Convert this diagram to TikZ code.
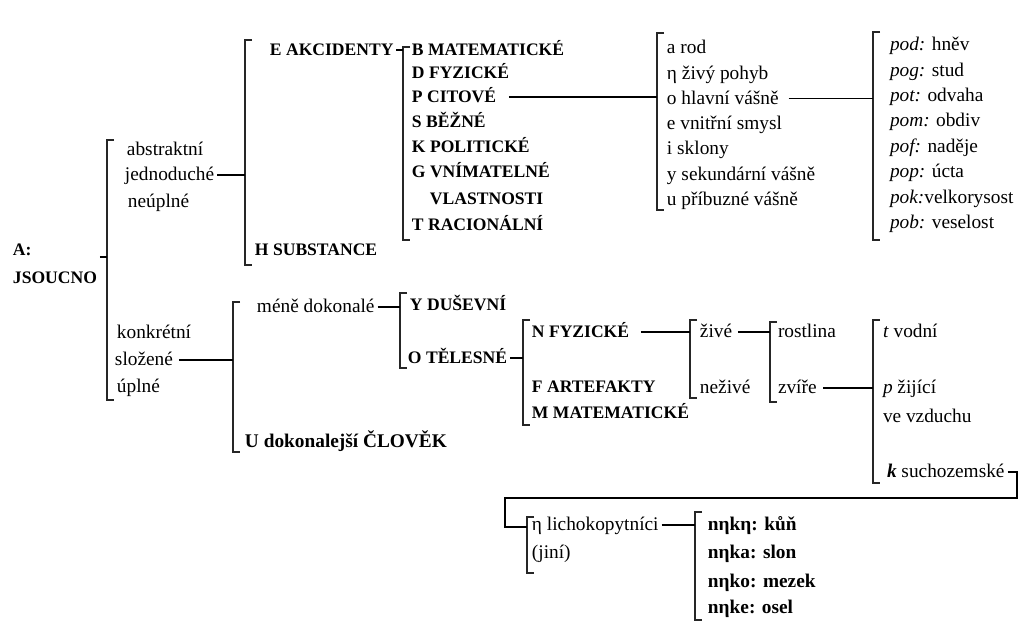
\documentclass[tikz,border=0pt]{standalone}
\usepackage{fontspec}
\setmainfont{Liberation Serif}

\begin{document}
\begin{tikzpicture}[
    x=0.02cm, y=-0.02cm,
    entry/.style={anchor=west, inner xsep=1.5pt, inner ysep=0pt,
                  text height=6.5pt, text depth=0pt,
                  font=\fontsize{11}{13}\selectfont},
    capentry/.style={entry, font=\fontsize{10}{12}\selectfont\bfseries},
    boldentry/.style={entry, font=\fontsize{11}{13}\selectfont\bfseries},
    brk/.style={draw=black!85, line width=0.8pt},
    link/.style={draw=black, line width=0.8pt}
]
\useasboundingbox (0,0) rectangle (1020,632);

% brackets: x / top / bottom
\foreach \bx/\bt/\bb in {107/140/400, 245/40/265, 403/47/240, 657/33/210,
    873/32/240, 233/302/452, 400/293/368, 523/320/425, 690/320/398,
    770/322/402, 873/320/483, 527/517/573, 695/512/620}
  \draw[brk] (\bx+7,\bt) -| (\bx,\bb) -- ++(7,0);

% bracket junctions
\coordinate (j1) at (107,257);
\coordinate (j2) at (245,175);
\coordinate (j3) at (403,50);
\coordinate (j4) at (657,97);
\coordinate (j5) at (873,97);
\coordinate (j6) at (233,360);
\coordinate (j7) at (400,308);
\coordinate (j8) at (523,358);
\coordinate (j9) at (690,332);
\coordinate (j10) at (770,332);
\coordinate (j11) at (873,388);
\coordinate (j12) at (527,527);
\coordinate (j13) at (695,525);
\coordinate (turnR) at (1017,498);
\coordinate (turnL) at (505,527);

% root
\node[capentry] (rootA) at (10,250) {A:};
\node[capentry] (rootJ) at (10,278) {JSOUCNO};

% upper branch
\node[entry] (abs1) at (124,150) {abstraktní};
\node[entry] (abs2) at (122,175) {jednoduché};
\node[entry] (abs3) at (125,202) {neúplné};

\node[capentry] (akc) at (267,50) {E AKCIDENTY};
\node[capentry] (subst) at (252,250) {H SUBSTANCE};

\node[capentry] (acc1) at (409,50) {B MATEMATICKÉ};
\node[capentry] (acc2) at (409,73) {D FYZICKÉ};
\node[capentry] (acc3) at (409,97) {P CITOVÉ};
\node[capentry] (acc4) at (409,122) {S BĚŽNÉ};
\node[capentry] (acc5) at (409,147) {K POLITICKÉ};
\node[capentry] (acc6) at (409,172) {G VNÍMATELNÉ};
\node[capentry] (acc7) at (427,199) {VLASTNOSTI};
\node[capentry] (acc8) at (409,225) {T RACIONÁLNÍ};

\foreach \t [count=\i] in {a rod, η živý pohyb, o hlavní vášně, e vnitřní smysl,
    i sklony, y sekundární vášně, u příbuzné vášně}
  \node[entry] (emo\i) at (664,{48+25.3*(\i-1)}) {\t};

\foreach \t [count=\i] in {\textit{pod:} hněv, \textit{pog:} stud,
    \textit{pot:} odvaha, \textit{pom:} obdiv, \textit{pof:} naděje,
    \textit{pop:} úcta, \textit{pok:}velkorysost, \textit{pob:} veselost}
  \node[entry] (pas\i) at (887,{45+25.4*(\i-1)}) {\t};

% lower branch
\node[entry] (kon1) at (114,333) {konkrétní};
\node[entry] (kon2) at (112,360) {složené};
\node[entry] (kon3) at (114,387) {úplné};

\node[entry] (mene) at (254,307) {méně dokonalé};
\node[boldentry] (clovek) at (242,442) {U dokonalejší ČLOVĚK};

\node[capentry] (dus) at (407,305) {Y DUŠEVNÍ};
\node[capentry] (otel) at (405,358) {O TĚLESNÉ};

\node[capentry] (nfyz) at (529,332) {N FYZICKÉ};
\node[capentry] (fart) at (529,387) {F ARTEFAKTY};
\node[capentry] (mmat) at (529,413) {M MATEMATICKÉ};

\node[entry] (zive) at (697,332) {živé};
\node[entry] (nezive) at (697,388) {neživé};

\node[entry] (rost) at (775,332) {rostlina};
\node[entry] (zvire) at (775,388) {zvíře};

\node[entry] (tvod) at (880,332) {\textit{t} vodní};
\node[entry] (pzij) at (880,388) {\textit{p} žijící};
\node[entry] (vzduch) at (880,417) {ve vzduchu};
\node[entry] (ksuch) at (884,472) {\textbf{\textit{k}} suchozemské};

\node[entry] (lich) at (529,525) {η lichokopytníci};
\node[entry] (jini) at (529,553) {(jiní)};

\node[boldentry] (kun) at (705,525) {nηkη: kůň};
\node[boldentry] (slon) at (705,553) {nηka: slon};
\node[boldentry] (mezek) at (705,582) {nηko: mezek};
\node[boldentry] (osel) at (705,608) {nηke: osel};

% connectors
\draw[link] (rootJ.east |- j1) -- (j1);
\draw[link] (abs2.east) -- (abs2.east -| j2);
\draw[link] (akc.east) -- (akc.east -| j3);
\draw[link, shorten <=5.5pt] (acc3.east) -- (acc3.east -| j4);
\draw[link, shorten <=4pt] (emo3.east) -- (emo3.east -| j5);
\draw[link] (kon2.east) ++(3,0) -- (kon2.east -| j6);
\draw[link] (mene.east) -- (mene.east -| j7);
\draw[link] (otel.east) -- (otel.east -| j8);
\draw[link, shorten <=5pt] (nfyz.east) -- (nfyz.east -| j9);
\draw[link, shorten <=1.5pt] (zive.east) -- (zive.east -| j10);
\draw[link, shorten <=2pt] (zvire.east) -- (zvire.east -| j11);
\draw[link] (ksuch.east) -| (turnR) -| (turnL) -- (j12);
\draw[link] (lich.east) -- (lich.east -| j13);

\end{tikzpicture}
\end{document}
